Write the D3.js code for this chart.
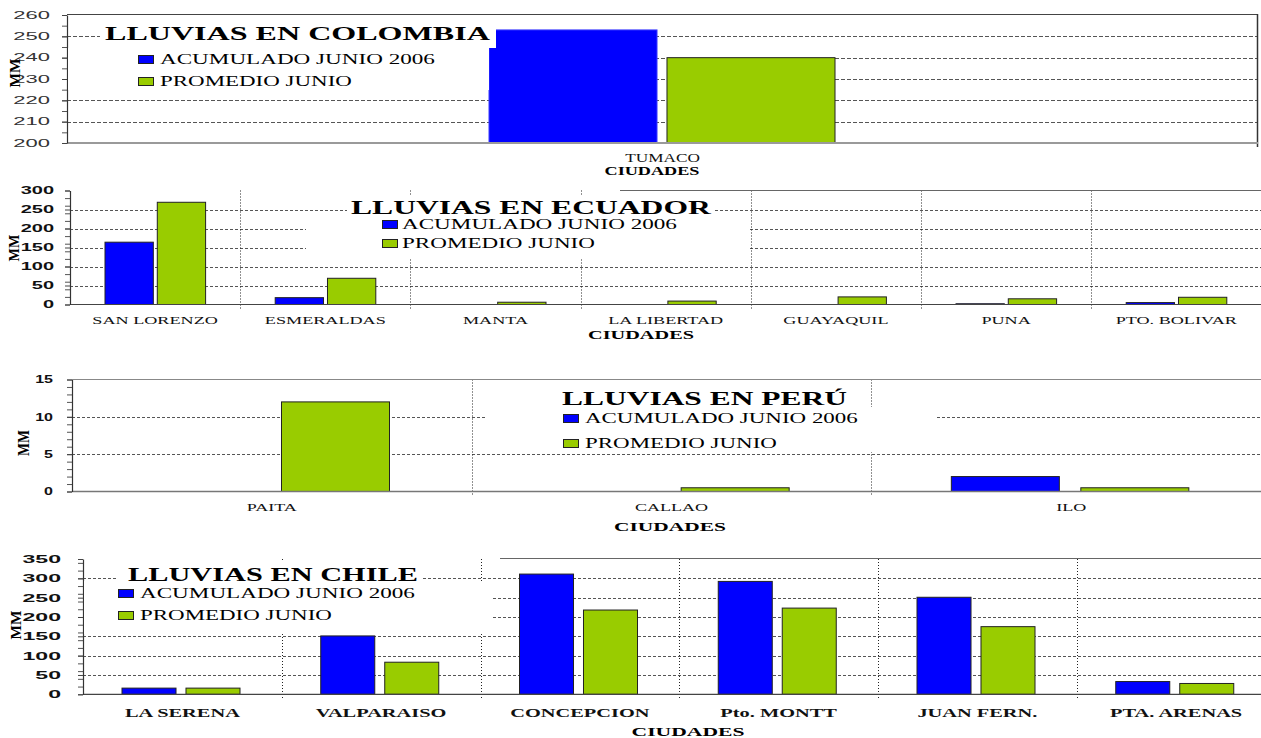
<!DOCTYPE html>
<html>
<head>
<meta charset="utf-8">
<script src="https://cdn.jsdelivr.net/npm/d3@7"></script>
<style>
  body { margin: 0; background: #fff; }
  svg { display: block; }
</style>
</head>
<body>
<svg id="chart" width="1261" height="738"></svg>
<script>
// ---- data -------------------------------------------------------------
const seriesNames  = ["ACUMULADO JUNIO 2006", "PROMEDIO JUNIO"];
const seriesColors = ["#0000ff", "#99cc00"];
const axisTitle = "CIUDADES";
const unitLabel = "MM";

const colombiaCities = ["TUMACO"];
const colombiaAcum   = [253];
const colombiaProm   = [240];
const colombiaTicks  = [200, 210, 220, 230, 240, 250, 260];

const ecuadorCities = ["SAN LORENZO", "ESMERALDAS", "MANTA", "LA LIBERTAD", "GUAYAQUIL", "PUNA", "PTO. BOLIVAR"];
const ecuadorAcum   = [164, 18, 0, 0, 0, 2, 5];
const ecuadorProm   = [269, 69, 6, 9, 20, 15, 19];
const ecuadorTicks  = [0, 50, 100, 150, 200, 250, 300];

const peruCities = ["PAITA", "CALLAO", "ILO"];
const peruAcum   = [0, 0, 2];
const peruProm   = [12, 0.5, 0.5];
const peruTicks  = [0, 5, 10, 15];

const chileCities = ["LA SERENA", "VALPARAISO", "CONCEPCION", "Pto. MONTT", "JUAN FERN.", "PTA. ARENAS"];
const chileAcum   = [16, 151, 311, 292, 251, 33];
const chileProm   = [16, 83, 218, 223, 175, 28];
const chileTicks  = [0, 50, 100, 150, 200, 250, 300, 350];

// ---- layout -----------------------------------------------------------
const SERIF = "'Liberation Serif','Times New Roman',serif";
const SANS  = "'Liberation Sans',Arial,sans-serif";

const panels = [
  {
    title: "LLUVIAS EN COLOMBIA", cities: colombiaCities, series: [colombiaAcum, colombiaProm],
    ticks: colombiaTicks, minor: 12,
    L: {
      x0: 67, x1: 1258, yTop: 15, yBot: 143, dash: "4,2",
      topFrom: 67, topColor: "#444", rightFrame: true, baseColor: "#9a9a9a", baseWidth: 2,
      tick: { size: 10, weight: "normal", sx: 2.2, gap: 17, color: "#333" },
      group: { left: 422, width: 346, pad: 0.056 }, blueStroke: "#3a3aff",
      cat: { y: 162, size: 11.5, weight: "normal", sx: 1.5 },
      xTitle: { x: 652, y: 175, size: 12, width: 95 },
      yTitle: { x: 15, y: 73, size: 15, width: 29 },
      title: { x: 105, y: 40, size: 18, width: 385 },
      legend: { sq: 138, tx: 160, rows: [58.5, 80.5], widths: [275, 192], size: 14.5 },
      masks: [[100, 18, 396, 30], [68, 48, 421, 42]]
    }
  },
  {
    title: "LLUVIAS EN ECUADOR", cities: ecuadorCities, series: [ecuadorAcum, ecuadorProm],
    ticks: ecuadorTicks, minor: 12,
    L: {
      x0: 70, x1: 1261.4, yTop: 190.5, yBot: 304.5, dash: "3,2",
      topFrom: 620, topColor: "#666", rightFrame: false, baseColor: "#444", baseWidth: 1.2,
      tick: { size: 10, weight: "bold", sx: 2.0, gap: 16, color: "#111" },
      group: { left: 35, width: 100.6, pad: 0.076 }, blueStroke: "#222",
      cat: { y: 324, size: 11, weight: "normal", sx: 1.65 },
      xTitle: { x: 641, y: 339, size: 12, width: 106 },
      yTitle: { x: 14, y: 248, size: 15, width: 27 },
      title: { x: 351, y: 214, size: 18, width: 360 },
      legend: { sq: 382, tx: 402, rows: [224, 243], widths: [275, 193], size: 14.5 },
      masks: [[347, 195, 367, 24], [306, 219, 444, 39]]
    }
  },
  {
    title: "LLUVIAS EN PERÚ", cities: peruCities, series: [peruAcum, peruProm],
    ticks: peruTicks, minor: 15,
    L: {
      x0: 72, x1: 1271, yTop: 379.5, yBot: 491.5, dash: "3,2",
      topFrom: 72, topColor: "#888", rightFrame: false, baseColor: "#777", baseWidth: 1.5,
      tick: { size: 10, weight: "bold", sx: 1.6, gap: 19, color: "#111" },
      group: { left: 80, width: 237.5, pad: 0.166 }, blueStroke: "#222",
      cat: { y: 511, size: 11, weight: "normal", sx: 1.64 },
      xTitle: { x: 670, y: 531, size: 12, width: 112 },
      yTitle: { x: 24, y: 443, size: 16, width: 26 },
      title: { x: 562, y: 405, size: 18, width: 285 },
      legend: { sq: 563, tx: 585, rows: [418, 442.5], widths: [273, 192], size: 14.5 },
      masks: [[550, 381, 318, 26], [485, 407, 450, 45]]
    }
  },
  {
    title: "LLUVIAS EN CHILE", cities: chileCities, series: [chileAcum, chileProm],
    ticks: chileTicks, minor: 14,
    L: {
      x0: 83, x1: 1275.5, yTop: 559, yBot: 694.3, dash: "3,2",
      topFrom: 500, topColor: "#666", rightFrame: false, baseColor: "#444", baseWidth: 1.2,
      tick: { size: 11, weight: "bold", sx: 2.1, gap: 22, color: "#111" },
      group: { left: 39, width: 118, pad: 0.156 }, blueStroke: "#222",
      cat: { y: 717, size: 12, weight: "bold", sx: 1.7 },
      xTitle: { x: 688, y: 736, size: 12, width: 113 },
      yTitle: { x: 16, y: 625, size: 15, width: 29 },
      title: { x: 128, y: 581, size: 18, width: 290 },
      legend: { sq: 118, tx: 140, rows: [592.5, 615], widths: [275, 192], size: 14.5 },
      masks: [[118, 560, 304, 21], [84, 581, 409, 53]]
    }
  }
];

// ---- drawing ----------------------------------------------------------
const svg = d3.select("#chart");
svg.append("rect").attr("width", 1261).attr("height", 738).attr("fill", "#fff");

// Places a text with its own horizontal scale; either a fixed factor (sx)
// or a target width that the rendered string is stretched to.
function placeText(g, str, x, y, o) {
  const t = g.append("text")
    .attr("text-anchor", o.anchor || "start")
    .style("font-family", o.family || SERIF)
    .style("font-size", o.size + "px")
    .style("font-weight", o.weight || "normal")
    .attr("fill", o.color || "#000")
    .text(str);
  let s = o.sx || 1;
  if (o.width) s = o.width / t.node().getComputedTextLength();
  t.attr("transform", `translate(${x},${y})${o.rotate ? ` rotate(${o.rotate})` : ""} scale(${s},1)`);
  return t;
}

const crisp = v => Math.round(v) + 0.5;

panels.forEach(p => {
  const L = p.L;
  const g = svg.append("g");
  const domain = [d3.min(p.ticks), d3.max(p.ticks)];

  const y = d3.scaleLinear().domain(domain).range([L.yBot, L.yTop]);
  const x = d3.scaleBand().domain(p.cities).range([L.x0, L.x1]).padding(0);
  const xs = d3.scaleBand().domain(d3.range(p.series.length))
    .range([L.group.left, L.group.left + L.group.width]).paddingInner(L.group.pad).paddingOuter(0);

  // horizontal dashed gridlines
  g.append("g").selectAll("line")
    .data(p.ticks.filter(t => t !== domain[0] && t !== domain[1]))
    .join("line")
    .attr("x1", L.x0).attr("x2", Math.min(L.x1, 1261))
    .attr("y1", d => crisp(y(d))).attr("y2", d => crisp(y(d)))
    .attr("stroke", "#555").attr("stroke-width", 1).attr("stroke-dasharray", L.dash);

  // dotted separators between cities
  g.append("g").selectAll("line")
    .data(p.cities.slice(1))
    .join("line")
    .attr("x1", d => crisp(x(d))).attr("x2", d => crisp(x(d)))
    .attr("y1", L.yTop).attr("y2", L.yBot + 5)
    .attr("stroke", "#222").attr("stroke-width", 1).attr("stroke-dasharray", "1,2");

  // bars
  const cells = [];
  p.cities.forEach((c, i) => p.series.forEach((vals, s) => {
    if (vals[i] > 0) cells.push({ city: c, s, v: vals[i] });
  }));
  g.append("g").selectAll("rect")
    .data(cells)
    .join("rect")
    .attr("x", d => x(d.city) + xs(d.s))
    .attr("width", xs.bandwidth())
    .attr("y", d => y(d.v))
    .attr("height", d => y(domain[0]) - y(d.v))
    .attr("fill", d => seriesColors[d.s])
    .attr("stroke", d => d.s === 0 ? L.blueStroke : "#222")
    .attr("stroke-width", 1);

  // frame lines
  g.append("line")
    .attr("x1", L.topFrom).attr("x2", Math.min(L.x1, 1261))
    .attr("y1", crisp(L.yTop) - 1).attr("y2", crisp(L.yTop) - 1)
    .attr("stroke", L.topColor).attr("stroke-width", 1.2);
  if (L.rightFrame) {
    g.append("line")
      .attr("x1", L.x1 - 0.5).attr("x2", L.x1 - 0.5)
      .attr("y1", L.yTop - 1).attr("y2", L.yBot + 4)
      .attr("stroke", "#333").attr("stroke-width", 1.5);
  }
  g.append("line")
    .attr("x1", L.x0).attr("x2", Math.min(L.x1, 1261))
    .attr("y1", L.yBot).attr("y2", L.yBot)
    .attr("stroke", L.baseColor).attr("stroke-width", L.baseWidth);

  // y axis: minor ticks, then labelled ticks
  const minorAxis = g.append("g").attr("transform", `translate(${L.x0},0)`)
    .call(d3.axisLeft(y).tickValues(y.ticks(p.minor)).tickFormat("").tickSize(5).tickSizeOuter(0));
  minorAxis.select(".domain").remove();
  minorAxis.selectAll("line").attr("stroke", "#555");

  const yAxis = g.append("g").attr("transform", `translate(${L.x0},0)`)
    .call(d3.axisLeft(y).tickValues(p.ticks).tickSize(5).tickSizeOuter(0).tickPadding(L.tick.gap - 5));
  yAxis.select(".domain").attr("stroke", "#333").attr("stroke-width", 1.2);
  yAxis.selectAll(".tick line").attr("stroke", "#444");
  yAxis.selectAll("text")
    .attr("x", -L.tick.gap / L.tick.sx)
    .attr("transform", `scale(${L.tick.sx},1)`)
    .attr("fill", L.tick.color)
    .style("font-family", SANS)
    .style("font-size", L.tick.size + "px")
    .style("font-weight", L.tick.weight);

  // white backgrounds of title and legend
  g.append("g").selectAll("rect")
    .data(L.masks)
    .join("rect")
    .attr("x", d => d[0]).attr("y", d => d[1])
    .attr("width", d => d[2]).attr("height", d => d[3])
    .attr("fill", "#fff");

  // title
  placeText(g, p.title, L.title.x, L.title.y,
    { size: L.title.size, weight: "bold", width: L.title.width });

  // legend
  seriesNames.forEach((name, s) => {
    const ry = L.legend.rows[s];
    g.append("rect")
      .attr("x", L.legend.sq + 0.5).attr("y", Math.round(ry - 4) + 0.5)
      .attr("width", 15).attr("height", 8)
      .attr("fill", seriesColors[s]).attr("stroke", "#222").attr("stroke-width", 1);
    placeText(g, name, L.legend.tx, ry + 5, { size: L.legend.size, width: L.legend.widths[s] });
  });

  // category labels
  p.cities.forEach(c => {
    placeText(g, c, x(c) + x.bandwidth() / 2, L.cat.y,
      { size: L.cat.size, weight: L.cat.weight, sx: L.cat.sx, anchor: "middle", color: "#111" });
  });

  // axis titles
  placeText(g, axisTitle, L.xTitle.x, L.xTitle.y,
    { size: L.xTitle.size, weight: "bold", width: L.xTitle.width, anchor: "middle" });
  placeText(g, unitLabel, L.yTitle.x + 5, L.yTitle.y,
    { size: L.yTitle.size, weight: "bold", width: L.yTitle.width, anchor: "middle", rotate: -90 });
});
</script>
</body>
</html>
